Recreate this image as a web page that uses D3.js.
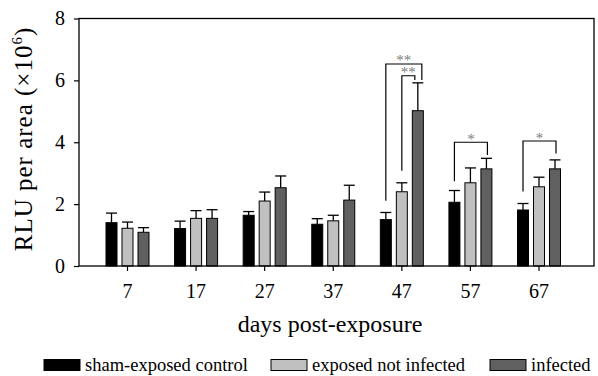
<!DOCTYPE html>
<html>
<head>
<meta charset="utf-8">
<script src="https://cdn.jsdelivr.net/npm/d3@7"></script>
<style>
  body { margin: 0; background: #fff; }
  svg { font-family: "Liberation Serif", "DejaVu Serif", serif; }
</style>
</head>
<body>
<div id="chart"></div>
<script>
// data
var days = ["7", "17", "27", "37", "47", "57", "67"];
var groups = ["sham-exposed control", "exposed not infected", "infected"];
var colors = ["#000000", "#c0c0c0", "#606060"];
var shamMean = [1.40, 1.21, 1.64, 1.35, 1.50, 2.06, 1.81];
var shamErr  = [0.31, 0.24, 0.12, 0.18, 0.23, 0.38, 0.21];
var exposedMean = [1.22, 1.54, 2.10, 1.46, 2.40, 2.69, 2.56];
var exposedErr  = [0.20, 0.25, 0.29, 0.18, 0.29, 0.48, 0.31];
var infectedMean = [1.09, 1.54, 2.53, 2.13, 5.02, 3.14, 3.14];
var infectedErr  = [0.15, 0.28, 0.38, 0.48, 0.90, 0.34, 0.29];
var yTicks = [0, 2, 4, 6, 8];
// significance brackets: day, from group, to group, top value, leg ends, label
var brackets = [
  {day: "47", from: 0, to: 2, top: 6.53, left: 2.11, right: 6.01, label: "**"},
  {day: "47", from: 1, to: 2, top: 6.15, left: 3.08, right: 6.01, label: "**"},
  {day: "57", from: 0, to: 2, top: 4.00, left: 2.74, right: 3.59, label: "*"},
  {day: "67", from: 0, to: 2, top: 4.04, left: 2.41, right: 3.64, label: "*"}
];

var width = 598, height = 376;
var svg = d3.select("#chart").append("svg").attr("width", width).attr("height", height)

var y = d3.scaleLinear().domain([0, 8]).range([266, 18.5])
var x0 = d3.scaleBand().domain(days).range([93.2, 573.3])
var x1 = d3.scaleBand().domain([0, 1, 2]).range([-22, 22]).paddingInner(0.25)
function cx(day) { return x0(day) + x0.bandwidth() / 2 }
function barMid(day, g) { return cx(day) + x1(g) + x1.bandwidth() / 2 }

var means = [shamMean, exposedMean, infectedMean]
var errs = [shamErr, exposedErr, infectedErr]
var rows = []
days.forEach(function (d, i) {
  for (var g = 0; g < 3; g++) rows.push({day: d, g: g, v: means[g][i], e: errs[g][i]})
})

// error bars (upper only)
var eb = svg.append("g").attr("stroke", "#000").attr("stroke-width", 1.3)
rows.forEach(function (r) {
  var c = barMid(r.day, r.g)
  eb.append("line").attr("x1", c).attr("x2", c).attr("y1", y(r.v)).attr("y2", y(r.v + r.e))
  eb.append("line").attr("x1", c - 5.5).attr("x2", c + 5.5).attr("y1", y(r.v + r.e)).attr("y2", y(r.v + r.e))
})

// bars
svg.append("g").selectAll("rect").data(rows).enter().append("rect")
  .attr("x", d => cx(d.day) + x1(d.g) + 0.5)
  .attr("y", d => y(d.v))
  .attr("width", x1.bandwidth() - 1)
  .attr("height", d => y(0) - y(d.v))
  .attr("fill", d => colors[d.g])
  .attr("stroke", "#000").attr("stroke-width", 1)

// axes
var yAxis = svg.append("g").attr("transform", "translate(79,0)")
  .call(d3.axisLeft(y).tickValues(yTicks).tickSize(5).tickPadding(9))
var xAxis = svg.append("g").attr("transform", "translate(0,266)")
  .call(d3.axisBottom(x0).tickSize(5))
xAxis.selectAll("text").attr("y", 32).attr("dy", 0)
;[yAxis, xAxis].forEach(function (a) {
  a.select(".domain").remove()
  a.selectAll("text").attr("font-size", 20).attr("fill", "#000").attr("font-family", "Liberation Serif")
  a.selectAll("line").attr("stroke", "#000").attr("stroke-width", 1.2)
})
svg.append("rect").attr("x", 79).attr("y", 18.5).attr("width", 515).attr("height", 247.5)
  .attr("fill", "none").attr("stroke", "#000").attr("stroke-width", 1.3)

// brackets (outer bracket at 47 sits just right of the inner one)
var nudge = [4, -3, 1, 1]
var bg = svg.append("g")
brackets.forEach(function (b, i) {
  var xl = barMid(b.day, b.from)
  var xr = barMid(b.day, b.to) + nudge[i]
  bg.append("path")
    .attr("d", "M" + xl + "," + y(b.left) + "V" + y(b.top) + "H" + xr + "V" + y(b.right))
    .attr("fill", "none").attr("stroke", "#000").attr("stroke-width", 1.2)
  bg.append("text").text(b.label)
    .attr("x", (xl + xr) / 2).attr("y", y(b.top) + 1.5)
    .attr("text-anchor", "middle").attr("font-size", 15).attr("fill", "#7a7a7a")
})

// axis titles
svg.append("text").attr("x", 330).attr("y", 332).attr("text-anchor", "middle")
  .attr("font-size", 24).text("days post-exposure")
var yl = svg.append("text").attr("transform", "translate(32,139) rotate(-90)")
  .attr("text-anchor", "middle").attr("font-size", 25).attr("letter-spacing", 1)
yl.append("tspan").text("RLU per area (×10")
yl.append("tspan").attr("font-size", 15).attr("dy", -10).text("6")
yl.append("tspan").attr("dy", 10).text(")")

// legend
var legX = [44, 271, 490]
var lg = svg.append("g")
groups.forEach(function (g, i) {
  lg.append("rect").attr("x", legX[i]).attr("y", 359.5).attr("width", 36).attr("height", 11)
    .attr("fill", colors[i]).attr("stroke", "#000").attr("stroke-width", 1)
  lg.append("text").attr("x", legX[i] + 41).attr("y", 371).attr("font-size", 18.5).text(g)
})
</script>
</body>
</html>
